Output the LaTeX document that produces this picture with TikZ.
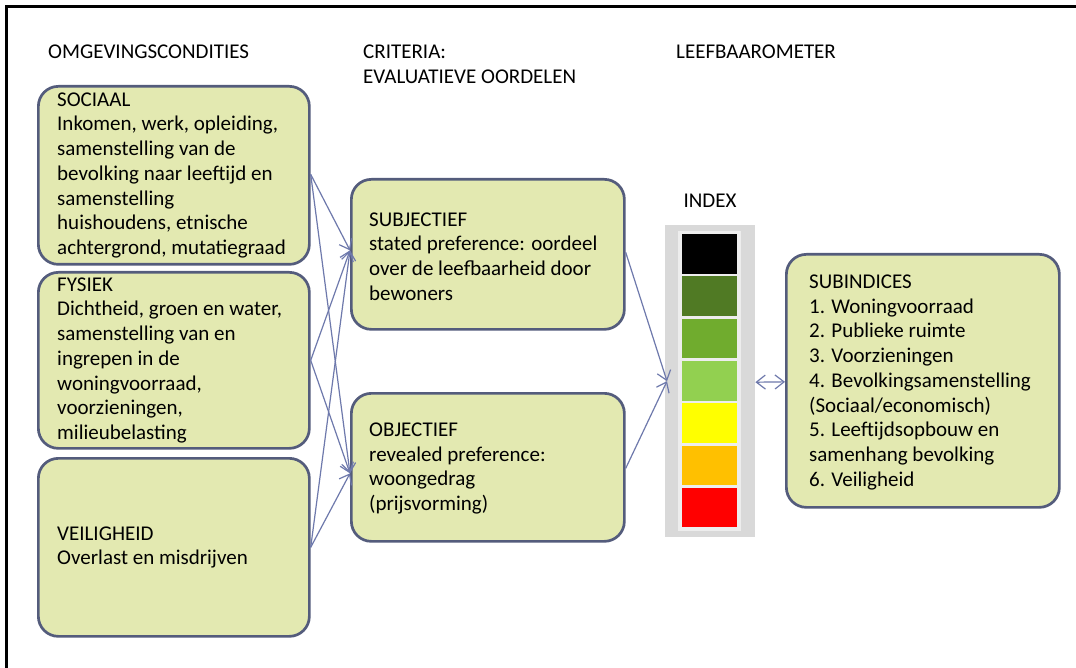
\documentclass[tikz,border=0pt]{standalone}
\usepackage{fontspec}
\setmainfont{Carlito}
\usetikzlibrary{arrows.meta}
\definecolor{boxfill}{HTML}{E3E9B1}
\definecolor{boxline}{HTML}{545C7C}
\definecolor{arrowc}{HTML}{6E79AC}
\definecolor{barouter}{HTML}{D9D9D9}
\definecolor{barinner}{HTML}{EDEDED}
\definecolor{lvA}{HTML}{000000}
\definecolor{lvB}{HTML}{507A24}
\definecolor{lvC}{HTML}{70AC2E}
\definecolor{lvD}{HTML}{92D050}
\definecolor{lvE}{HTML}{FFFF00}
\definecolor{lvF}{HTML}{FFC000}
\definecolor{lvG}{HTML}{FF0000}
\begin{document}
\begin{tikzpicture}[x=1pt,y=-1pt,
  box/.style={draw=boxline, fill=boxfill, line width=2.7pt, rounded corners=20pt,
    anchor=north west, inner sep=0pt},
  lbl/.style={font=\fontsize{21}{24.7}\selectfont, align=left, inner sep=0pt, anchor=west},
  head/.style={font=\fontsize{21}{24.7}\selectfont, align=left, inner sep=0pt, anchor=west},
  barb/.tip={Straight Barb[length=9pt,width=14pt]},
  conn/.style={draw=arrowc, line width=1.2pt, -barb},
  cell/.style={anchor=north west, inner sep=0pt, minimum width=55pt, minimum height=39.5pt},
]
\useasboundingbox (0,0) rectangle (1076,668);
\fill[white] (0,0) rectangle (1076,668);
% frame
\draw[line width=3pt] (6,668) -- (6,7) -- (1076,7);

% column headings
\node[head] (h1) at (48,52) {OMGEVINGSCONDITIES};
\node[head] (h2) at (363,64) {CRITERIA:\\EVALUATIEVE OORDELEN};
\node[head] (h3) at (676,52) {LEEFBAAROMETER};

% left column
\node[box, minimum width=271pt, minimum height=178pt] (soc) at (37,85) {};
\node[lbl] (socT) at ([xshift=20pt]soc.west) {SOCIAAL\\Inkomen, werk, opleiding,\\samenstelling van de\\bevolking naar leeftijd en\\samenstelling\\huishoudens, etnische\\achtergrond, mutatiegraad};
\node[box, minimum width=271pt, minimum height=176pt] (fys) at (37,271) {};
\node[lbl] (fysT) at ([xshift=20pt]fys.west) {FYSIEK\\Dichtheid, groen en water,\\samenstelling van en\\ingrepen in de\\woningvoorraad,\\voorzieningen,\\milieubelasting};
\node[box, minimum width=271pt, minimum height=178pt] (vei) at (37,457) {};
\node[lbl] (veiT) at ([xshift=20pt]vei.west) {VEILIGHEID\\Overlast en misdrijven};

% middle column
\node[box, minimum width=273pt, minimum height=150pt] (subj) at (350,178) {};
\node[lbl] (subjT) at ([xshift=19pt,yshift=-2pt]subj.west) {SUBJECTIEF\\stated preference: oordeel\\over de leefbaarheid door\\bewoners};
\node[box, minimum width=273pt, minimum height=148pt] (obj) at (350,392) {};
\node[lbl] (objT) at ([xshift=19pt,yshift=-1pt]obj.west) {OBJECTIEF\\revealed preference:\\woongedrag\\(prijsvorming)};

% index bar
\node[head, anchor=center] (idx) at (710,201) {INDEX};
\node[fill=barouter, anchor=north west, inner sep=0pt, minimum width=90pt, minimum height=312pt] (bar) at (665,225) {};
\node[fill=barinner, anchor=north west, inner sep=0pt, minimum width=63pt, minimum height=300pt] (barin) at (678,231) {};
\node[cell, fill=lvA] (c1) at (682,234) {};
\node[cell, fill=lvB] (c2) at (682,276) {};
\node[cell, fill=lvC] (c3) at (682,318.5) {};
\node[cell, fill=lvD] (c4) at (682,361) {};
\node[cell, fill=lvE] (c5) at (682,403) {};
\node[cell, fill=lvF] (c6) at (682,445.5) {};
\node[cell, fill=lvG] (c7) at (682,487.5) {};

% right column
\node[box, minimum width=273pt, minimum height=253pt] (sub) at (785,253) {};
\node[lbl] (subT) at ([xshift=24pt,yshift=-1.5pt]sub.west) {SUBINDICES\\1. Woningvoorraad\\2. Publieke ruimte\\3. Voorzieningen\\4. Bevolkingsamenstelling\\(Sociaal/economisch)\\5. Leeftijdsopbouw en\\samenhang bevolking\\6. Veiligheid};

% connectors
\draw[conn] ([yshift=1pt]soc.east) -- ([yshift=4pt]subj.west);
\draw[conn] ([yshift=1pt]soc.east) -- ([yshift=-6pt]obj.west);
\draw[conn] (fys.east) -- ([yshift=4pt]subj.west);
\draw[conn] (fys.east) -- ([yshift=-6pt]obj.west);
\draw[conn] (vei.east) -- ([yshift=4pt]subj.west);
\draw[conn] (vei.east) -- ([yshift=-6pt]obj.west);
\draw[conn] ([yshift=2pt]subj.east) -- ([xshift=2pt]bar.west);
\draw[conn] ([yshift=-1pt]obj.east) -- ([xshift=2pt]bar.west);
\draw[draw=arrowc, line width=1.2pt, barb-barb] ([yshift=-1pt]bar.east) -- ([yshift=-1pt]sub.west);
\end{tikzpicture}
\end{document}
